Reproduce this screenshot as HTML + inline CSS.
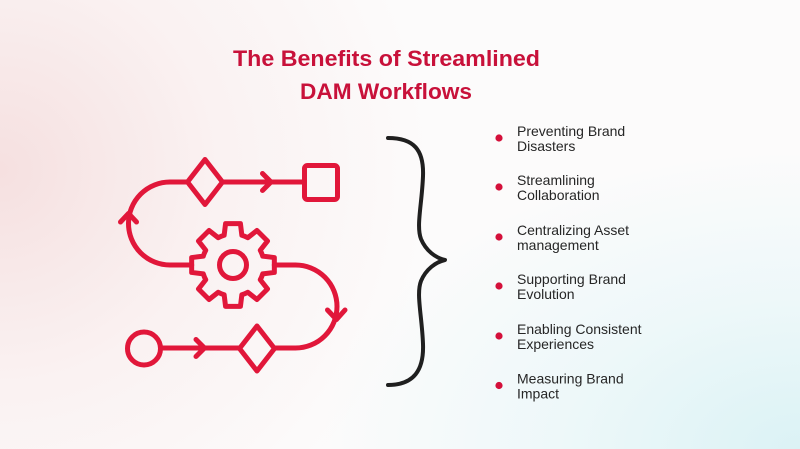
<!DOCTYPE html>
<html>
<head>
<meta charset="utf-8">
<style>
  html,body{margin:0;padding:0;}
  body{width:800px;height:449px;overflow:hidden;position:relative;
    background:
      radial-gradient(ellipse 430px 420px at 0px 170px, rgba(245,221,221,0.9), rgba(248,232,232,0.5) 50%, rgba(255,255,255,0) 100%),
      radial-gradient(ellipse 480px 300px at 800px 449px, rgba(219,242,245,1), rgba(228,246,248,0.6) 50%, rgba(255,255,255,0) 100%),
      #fcfbfb;
  }
  svg{position:absolute;left:0;top:0;}
</style>
</head>
<body>
<svg width="800" height="449" viewBox="0 0 800 449" xmlns="http://www.w3.org/2000/svg">
  <!-- Title -->
  <g font-family="'Liberation Sans', sans-serif" font-weight="bold" fill="#c8113a" text-anchor="middle" font-size="22">
    <text x="386.5" y="66" textLength="307" lengthAdjust="spacingAndGlyphs">The Benefits of Streamlined</text>
    <text x="386" y="99" textLength="172" lengthAdjust="spacingAndGlyphs">DAM Workflows</text>
  </g>

  <!-- Icon -->
  <g fill="none" stroke="#e1173a" stroke-width="5" stroke-linejoin="round" stroke-linecap="round">
    <polygon points="205,159.5 222.5,182 205,204.5 187.5,182"/>
    <line x1="222.5" y1="182" x2="304.5" y2="182"/>
    <polyline points="262.5,173.5 271,182 262.5,190.5"/>
    <rect x="304.5" y="165.5" width="33" height="34" rx="3"/>
    <path d="M187.5,182 L170,182 A41.5,41.5 0 0 0 170,265 L191.7,265"/>
    <polyline points="120.5,222 128.5,213.5 136.5,222"/>
    <path d="M262.71,256.14 L274.34,257.56 L274.34,272.44 L262.71,273.86 A31,31 0 0 1 260.27,279.74 L267.49,288.97 L256.97,299.49 L247.74,292.27 A31,31 0 0 1 241.86,294.71 L240.44,306.34 L225.56,306.34 L224.14,294.71 A31,31 0 0 1 218.26,292.27 L209.03,299.49 L198.51,288.97 L205.73,279.74 A31,31 0 0 1 203.29,273.86 L191.66,272.44 L191.66,257.56 L203.29,256.14 A31,31 0 0 1 205.73,250.26 L198.51,241.03 L209.03,230.51 L218.26,237.73 A31,31 0 0 1 224.14,235.29 L225.56,223.66 L240.44,223.66 L241.86,235.29 A31,31 0 0 1 247.74,237.73 L256.97,230.51 L267.49,241.03 L260.27,250.26 A31,31 0 0 1 262.71,256.14 Z"/>
    <circle cx="233" cy="265" r="13.5"/>
    <path d="M274.3,265 L295.5,265 A41.5,41.5 0 0 1 295.5,348 L274.5,348"/>
    <polyline points="327.5,310 336.5,319.5 345,310"/>
    <circle cx="144" cy="348.5" r="16.5"/>
    <line x1="160.5" y1="348" x2="239.5" y2="348"/>
    <polyline points="196,339.5 204.5,348 196,356.5"/>
    <polygon points="257,326 274.5,348.5 257,371 239.5,348.5"/>
  </g>

  <!-- Brace -->
  <path d="M388,138 C414,138 424,150 423,176 C422,204 416,226 421,239 C426,251 436,258 445,260 C436,262 426,269 421,281 C416,294 422,316 423,344 C424,370 414,385 388,385"
        fill="none" stroke="#1f1f1f" stroke-width="4" stroke-linecap="round" stroke-linejoin="round"/>

  <!-- Bullets -->
  <g fill="#d4103a">
    <circle cx="499" cy="138" r="3.6"/>
    <circle cx="499" cy="187" r="3.6"/>
    <circle cx="499" cy="237" r="3.6"/>
    <circle cx="499" cy="286" r="3.6"/>
    <circle cx="499" cy="336" r="3.6"/>
    <circle cx="499" cy="385.5" r="3.6"/>
  </g>

  <!-- List text -->
  <g font-family="'Liberation Sans', sans-serif" font-size="14" fill="#262626">
    <text x="517" y="136">Preventing Brand</text>
    <text x="517" y="151">Disasters</text>
    <text x="517" y="185">Streamlining</text>
    <text x="517" y="200">Collaboration</text>
    <text x="517" y="235">Centralizing Asset</text>
    <text x="517" y="250">management</text>
    <text x="517" y="284">Supporting Brand</text>
    <text x="517" y="299">Evolution</text>
    <text x="517" y="334">Enabling Consistent</text>
    <text x="517" y="349">Experiences</text>
    <text x="517" y="383.5">Measuring Brand</text>
    <text x="517" y="398.5">Impact</text>
  </g>
</svg>
</body>
</html>
